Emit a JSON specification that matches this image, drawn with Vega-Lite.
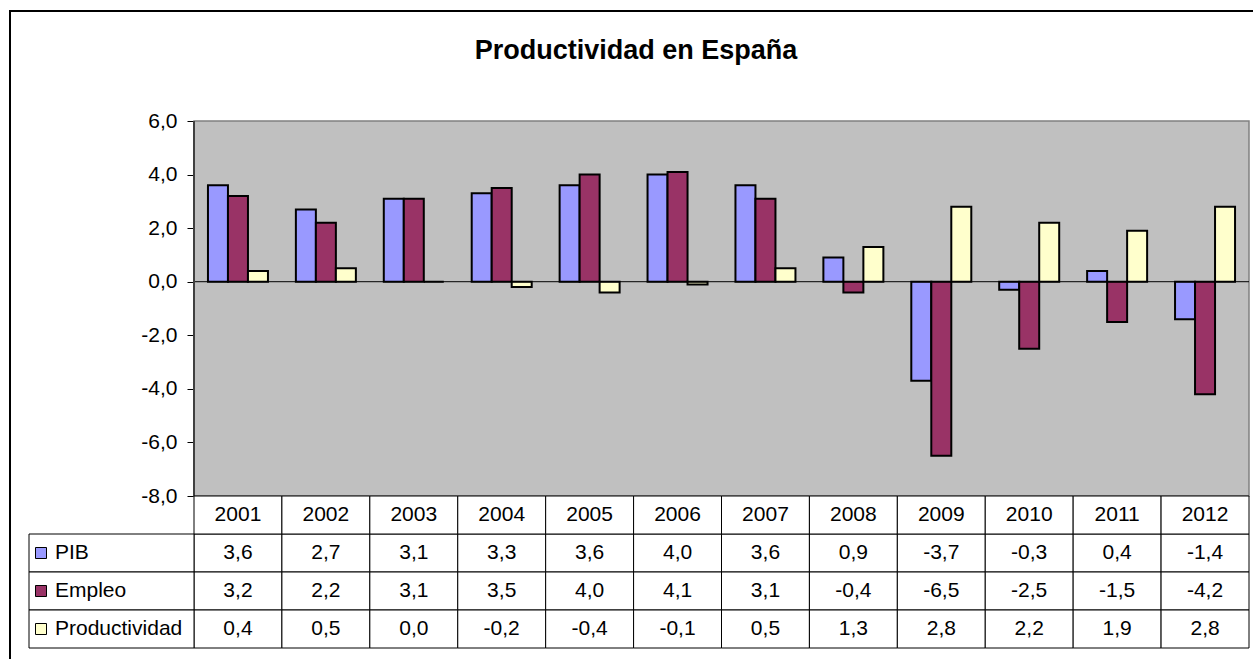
{
  "$schema": "https://vega.github.io/schema/vega-lite/v6.json",
  "autosize": "none",
  "width": 1246,
  "height": 660,
  "padding": {"left": 10, "top": 11, "right": -3, "bottom": -12},
  "background": "white",
  "title": {"text": "Productividad en España", "font": "Liberation Sans", "fontSize": 27, "fontWeight": "bold", "color": "black", "anchor": "middle", "frame": "group", "baseline": "alphabetic", "offset": -75, "dx": 3},
  "data": {"values": [
    {"year": 2001, "series": "PIB", "value": 3.6}, {"year": 2001, "series": "Empleo", "value": 3.2}, {"year": 2001, "series": "Productividad", "value": 0.4},
    {"year": 2002, "series": "PIB", "value": 2.7}, {"year": 2002, "series": "Empleo", "value": 2.2}, {"year": 2002, "series": "Productividad", "value": 0.5},
    {"year": 2003, "series": "PIB", "value": 3.1}, {"year": 2003, "series": "Empleo", "value": 3.1}, {"year": 2003, "series": "Productividad", "value": 0.0},
    {"year": 2004, "series": "PIB", "value": 3.3}, {"year": 2004, "series": "Empleo", "value": 3.5}, {"year": 2004, "series": "Productividad", "value": -0.2},
    {"year": 2005, "series": "PIB", "value": 3.6}, {"year": 2005, "series": "Empleo", "value": 4.0}, {"year": 2005, "series": "Productividad", "value": -0.4},
    {"year": 2006, "series": "PIB", "value": 4.0}, {"year": 2006, "series": "Empleo", "value": 4.1}, {"year": 2006, "series": "Productividad", "value": -0.1},
    {"year": 2007, "series": "PIB", "value": 3.6}, {"year": 2007, "series": "Empleo", "value": 3.1}, {"year": 2007, "series": "Productividad", "value": 0.5},
    {"year": 2008, "series": "PIB", "value": 0.9}, {"year": 2008, "series": "Empleo", "value": -0.4}, {"year": 2008, "series": "Productividad", "value": 1.3},
    {"year": 2009, "series": "PIB", "value": -3.7}, {"year": 2009, "series": "Empleo", "value": -6.5}, {"year": 2009, "series": "Productividad", "value": 2.8},
    {"year": 2010, "series": "PIB", "value": -0.3}, {"year": 2010, "series": "Empleo", "value": -2.5}, {"year": 2010, "series": "Productividad", "value": 2.2},
    {"year": 2011, "series": "PIB", "value": 0.4}, {"year": 2011, "series": "Empleo", "value": -1.5}, {"year": 2011, "series": "Productividad", "value": 1.9},
    {"year": 2012, "series": "PIB", "value": -1.4}, {"year": 2012, "series": "Empleo", "value": -4.2}, {"year": 2012, "series": "Productividad", "value": 2.8}
  ]},
  "layer": [
    {
      "layer": [
        {
          "data": {"values": [{}]},
          "mark": {"type": "rect", "fill": "#C0C0C0", "stroke": "#808080", "strokeWidth": 1.5},
          "encoding": {
            "x": {"datum": 0, "type": "quantitative", "scale": {"domain": [0, 1], "range": [184, 1239], "nice": false, "zero": false}, "axis": null},
            "x2": {"datum": 1},
            "y": {"datum": 6, "type": "quantitative", "scale": {"domain": [-8, 6], "range": [485, 110], "nice": false, "zero": false}},
            "y2": {"datum": -8}
          }
        },
        {
          "mark": {"type": "bar", "stroke": "black", "strokeWidth": 2},
          "encoding": {
            "x": {"field": "year", "type": "ordinal", "scale": {"domain": [2001, 2002, 2003, 2004, 2005, 2006, 2007, 2008, 2009, 2010, 2011, 2012], "range": [184, 1239], "paddingInner": 0, "paddingOuter": 0}, "axis": null},
            "xOffset": {"field": "series", "type": "nominal", "scale": {"domain": ["PIB", "Empleo", "Productividad"], "paddingInner": 0, "paddingOuter": 0.698}},
            "y": {"field": "value", "type": "quantitative", "scale": {"domain": [-8, 6], "range": [485, 110], "nice": false, "zero": false},
                  "axis": {"values": [-8, -6, -4, -2, 0, 2, 4, 6], "format": ".1f", "orient": "left", "offset": -184, "domain": false, "grid": false, "tickSize": 7, "tickColor": "black", "tickWidth": 1, "labelPadding": 10, "labelFont": "Liberation Sans", "labelFontSize": 21, "labelColor": "black", "title": null}},
            "y2": {"datum": 0},
            "color": {"field": "series", "type": "nominal", "scale": {"domain": ["PIB", "Empleo", "Productividad"], "range": ["#9999FF", "#993366", "#FFFFCC"]}, "legend": null}
          }
        },
        {
          "data": {"values": [{}]},
          "layer": [
            {
              "mark": {"type": "rule", "color": "black", "strokeWidth": 1},
              "encoding": {
                "x": {"datum": 0, "type": "quantitative", "scale": {"domain": [0, 1], "range": [184, 1239], "nice": false, "zero": false}, "axis": null},
                "x2": {"datum": 1},
                "y": {"datum": 0, "type": "quantitative"}
              }
            },
            {
              "mark": {"type": "rule", "color": "#404040", "strokeWidth": 2},
              "encoding": {
                "x": {"datum": 0, "type": "quantitative", "scale": {"domain": [0, 1], "range": [184, 1239], "nice": false, "zero": false}, "axis": null},
                "y": {"datum": 6, "type": "quantitative"},
                "y2": {"datum": -8}
              }
            }
          ]
        }
      ],
      "resolve": {"scale": {"x": "independent"}}
    },
    {
      "layer": [
        {
          "layer": [
            {
              "mark": {"type": "rect", "fill": "white", "stroke": "black", "strokeWidth": 1},
              "encoding": {
                "x": {"field": "year", "type": "ordinal", "scale": {"domain": [2001, 2002, 2003, 2004, 2005, 2006, 2007, 2008, 2009, 2010, 2011, 2012], "range": [184, 1239], "paddingInner": 0, "paddingOuter": 0}, "axis": null},
                "y": {"field": "series", "type": "nominal", "scale": {"domain": ["header", "PIB", "Empleo", "Productividad"], "range": [485, 637], "paddingInner": 0, "paddingOuter": 0}, "axis": null}
              }
            },
            {
              "transform": [{"filter": "datum.series === 'PIB'"}],
              "mark": {"type": "rect", "fill": "white", "stroke": "black", "strokeWidth": 1},
              "encoding": {
                "x": {"field": "year", "type": "ordinal", "axis": null},
                "y": {"datum": "header", "type": "nominal", "axis": null}
              }
            },
            {
              "transform": [{"filter": "datum.series === 'PIB'"}],
              "mark": {"type": "text", "font": "Liberation Sans", "fontSize": 21, "color": "black", "baseline": "middle", "align": "center"},
              "encoding": {
                "x": {"field": "year", "type": "ordinal", "axis": null},
                "y": {"datum": "header", "type": "nominal", "axis": null},
                "text": {"field": "year", "type": "ordinal"}
              }
            },
            {
              "mark": {"type": "text", "font": "Liberation Sans", "fontSize": 21, "color": "black", "baseline": "middle", "align": "center"},
              "encoding": {
                "x": {"field": "year", "type": "ordinal", "axis": null},
                "y": {"field": "series", "type": "nominal", "axis": null},
                "text": {"field": "value", "type": "quantitative", "format": ".1f"}
              }
            }
          ]
        },
        {
          "transform": [{"filter": "datum.year === 2001"}],
          "layer": [
            {
              "mark": {"type": "rect", "fill": "white", "stroke": "black", "strokeWidth": 1},
              "encoding": {
                "x": {"datum": "label", "type": "nominal", "scale": {"domain": ["label"], "range": [19, 184], "paddingInner": 0, "paddingOuter": 0}, "axis": null},
                "y": {"field": "series", "type": "nominal", "axis": null}
              }
            },
            {
              "mark": {"type": "text", "font": "Liberation Sans", "fontSize": 21, "color": "black", "baseline": "middle", "align": "left", "dx": 26},
              "encoding": {
                "x": {"datum": "label", "type": "nominal", "bandPosition": 0, "axis": null},
                "y": {"field": "series", "type": "nominal", "axis": null},
                "text": {"field": "series", "type": "nominal"}
              }
            }
          ]
        },
        {
          "transform": [{"filter": "datum.year === 2001"}],
          "mark": {"type": "point", "shape": "square", "size": 121, "filled": true, "opacity": 1, "stroke": "black", "strokeWidth": 1},
          "encoding": {
            "x": {"datum": "sw", "type": "nominal", "scale": {"domain": ["sw"], "range": [25.5, 36.5], "paddingInner": 0, "paddingOuter": 0}, "axis": null},
            "y": {"field": "series", "type": "nominal", "axis": null},
            "color": {"field": "series", "type": "nominal", "legend": null}
          }
        }
      ],
      "resolve": {"scale": {"x": "independent"}}
    }
  ],
  "resolve": {"scale": {"x": "independent", "y": "independent"}},
  "config": {
    "view": {"stroke": "black", "strokeWidth": 2, "fill": "white"},
    "font": "Liberation Sans",
    "locale": {"number": {"decimal": ",", "thousands": ".", "grouping": [3], "currency": ["", " €"], "minus": "-"}}
  }
}
